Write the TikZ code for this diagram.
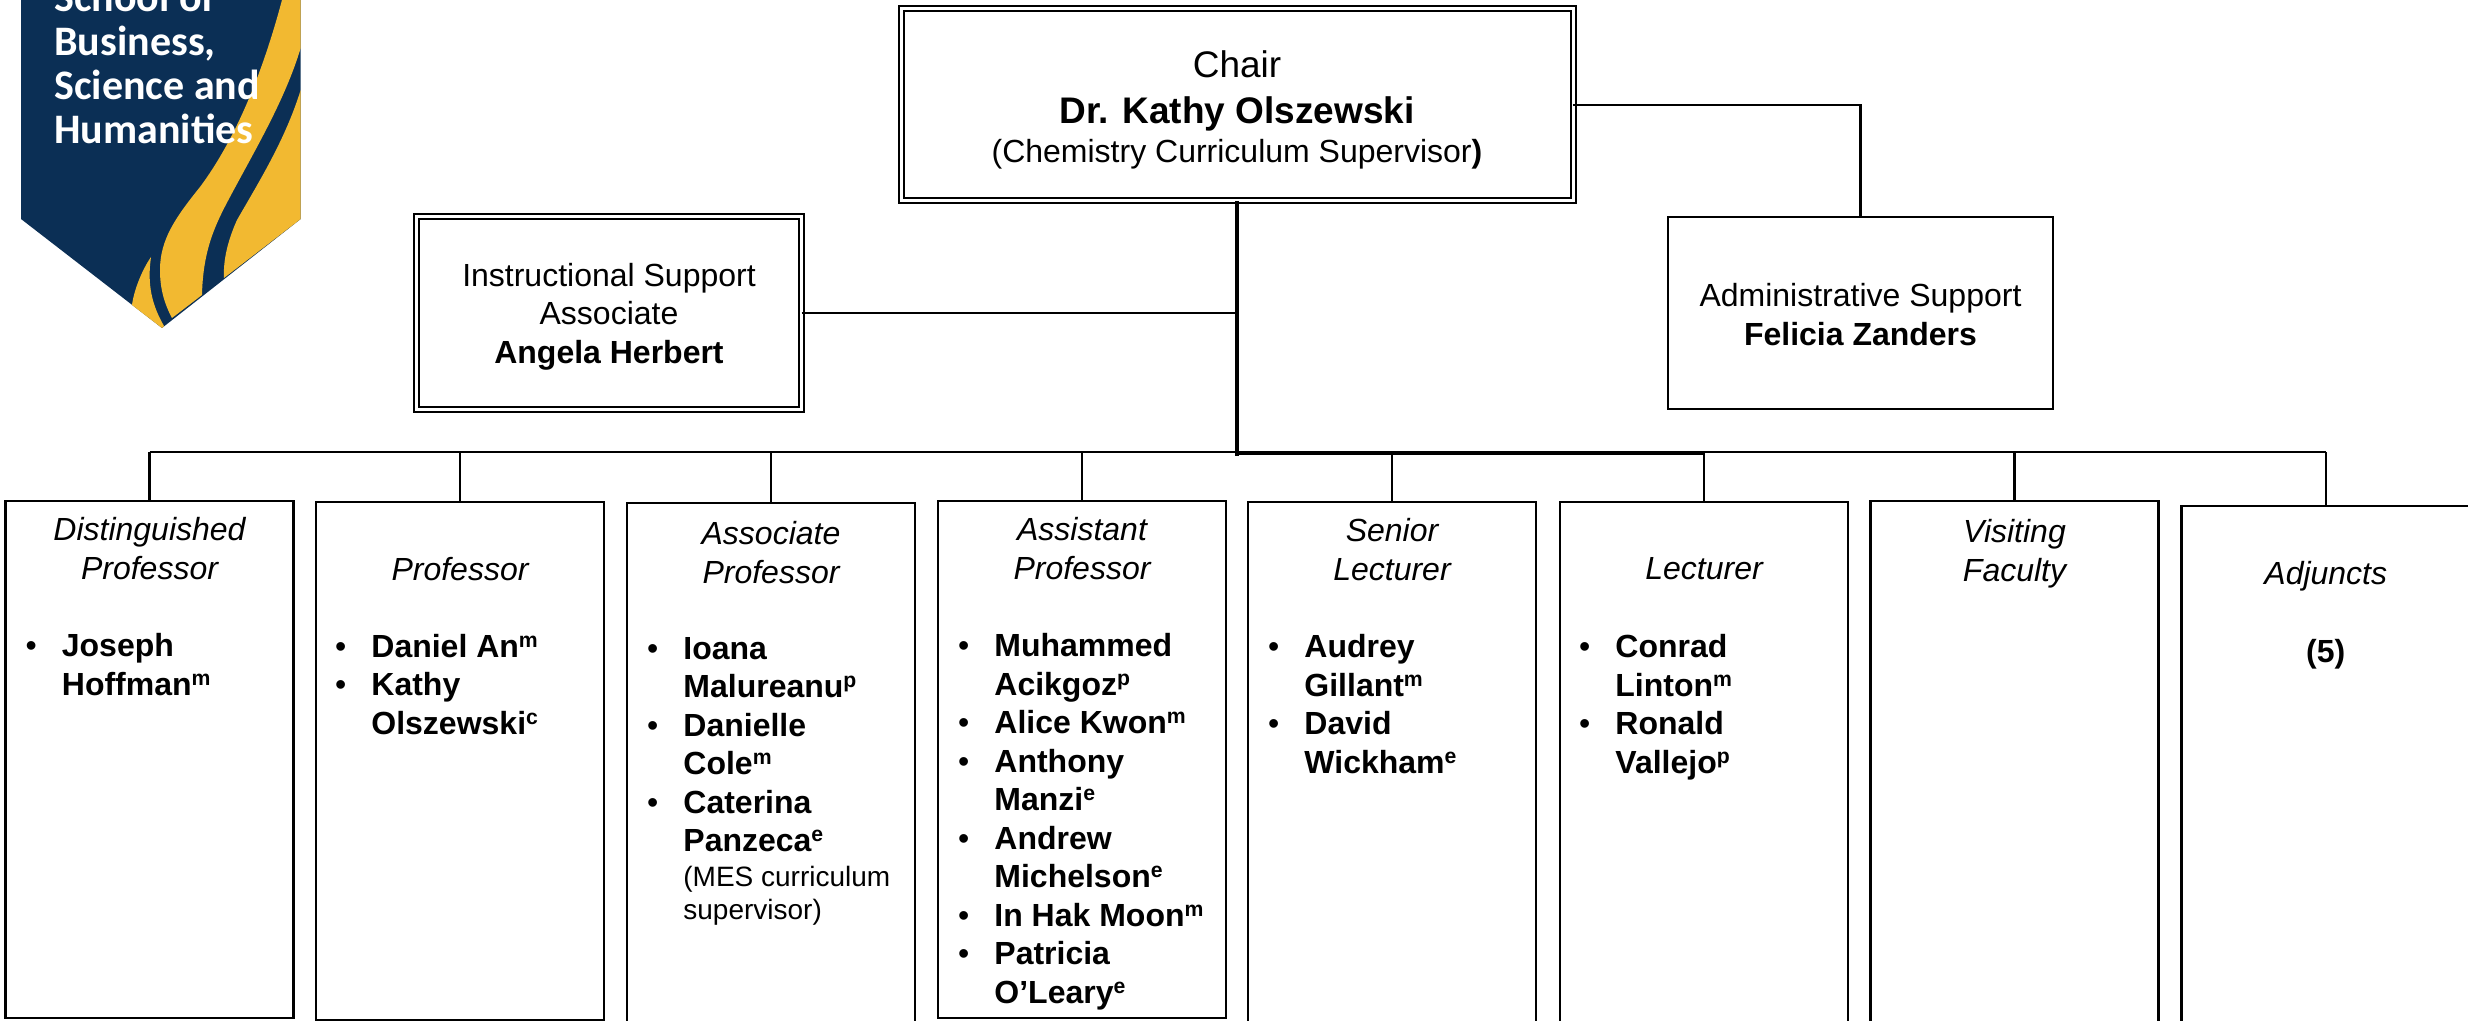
\documentclass[tikz,border=0pt]{standalone}
\usepackage{fontspec}
\setmainfont{Liberation Sans}
\newfontfamily\logofont{Carlito}
\usepackage{xcolor}
\usetikzlibrary{positioning}
\definecolor{logonavy}{HTML}{0B2F55}
\definecolor{logogold}{HTML}{F2B931}
\newcommand{\bul}{\llap{\textmd{\textbullet}\hspace{12.5pt}}}
\newcommand{\rk}[1]{\raisebox{5pt}{\fontsize{10.6}{10.6}\selectfont #1}}

\begin{document}
\begin{tikzpicture}[x=0.5pt, y=-0.5pt]
\tikzstyle{lead}=[draw, double, line width=1pt, double distance=1.5pt, inner sep=0pt, outer sep=0pt]
\tikzstyle{office}=[draw, line width=1.3pt, inner sep=0pt, outer sep=0pt]
\tikzstyle{boxtext}=[inner sep=0pt, align=center, anchor=north,
                  font=\fontsize{16}{19.25}\selectfont]
\tikzstyle{rank}=[draw, line width=1.4pt, inner sep=0pt, outer sep=0pt, anchor=north west,
                  minimum width=144pt]
\tikzstyle{ranktitle}=[inner sep=0pt, align=center, anchor=north,
                  font=\fontsize{16}{19.25}\selectfont\itshape]
\tikzstyle{names}=[inner sep=0pt, align=left, anchor=north west,
                  font=\fontsize{16}{19.25}\selectfont\bfseries]
\tikzstyle{wire}=[line width=1.2pt]
\useasboundingbox (0,0) rectangle (2468,1021);

% logo
\fill[logonavy] (21,0) -- (300.7,0) -- (300.7,219) -- (162,328) -- (21,219) -- cycle;
\fill[logogold] (282,0) .. controls (262,75) and (235,140) .. (200,187)
  .. controls (175,218) and (160,240) .. (160,270)
  .. controls (160,290) and (165,305) .. (172,318)
  -- (202,295) .. controls (203,250) and (215,225) .. (230,197)
  .. controls (255,150) and (285,100) .. (300.7,48)
  -- (300.7,0) -- cycle;
\fill[logogold] (300.7,90) .. controls (285,140) and (260,180) .. (237,220)
  .. controls (228,240) and (223,260) .. (224,278)
  -- (300.7,219) -- cycle;
\fill[logogold] (151,257) .. controls (142,270) and (134,290) .. (132,305)
  -- (162,328) -- (164,326) .. controls (152,305) and (147,285) .. (151,257) -- cycle;
\node[anchor=south west, inner sep=0pt, align=left, text=white,
      font=\logofont\fontsize{21}{22}\selectfont\bfseries] (logotext) at (54,144)
  {School of\\Business,\\Science and\\Humanities};

% top boxes
\node[lead, minimum width=336pt, minimum height=96pt] (chair) at (1237,105) {};
\node[lead, minimum width=192.5pt, minimum height=96.5pt] (support) at (609,313) {};
\node[office, minimum width=192.5pt, minimum height=96pt] (admin) at (1860.5,313) {};

\node[boxtext, below=20.6pt of chair.north] (chairtext)
  {\fontsize{18.5}{22}\selectfont Chair\\[3.6pt]
   \fontsize{18.5}{22}\selectfont\bfseries Dr. Kathy Olszewski\\[0.4pt]
   \fontsize{16}{19.25}\selectfont (Chemistry Curriculum Supervisor\textbf{)}};
\node[boxtext, below=23pt of support.north] (supporttext)
  {Instructional Support\\Associate\\\textbf{Angela Herbert}};
\node[boxtext, below=33pt of admin.north] (admintext)
  {Administrative Support\\\textbf{Felicia Zanders}};

% rank boxes
\node[rank, minimum height=258.5pt] (dist) at (5.5,501) {};
\node[rank, minimum height=259pt] (prof) at (316,502) {};
\node[rank, minimum height=265pt] (assoc) at (627,503) {};
\node[rank, minimum height=258.5pt] (assist) at (938,501) {};
\node[rank, minimum height=265pt] (senior) at (1248,502) {};
\node[rank, minimum height=265pt] (lect) at (1560,502) {};
\node[rank, minimum height=265pt] (visit) at (1870.5,501) {};
\node[rank, minimum height=265pt, minimum width=144.25pt] (adj) at (2181.5,506) {};

\node[ranktitle, below=8.2pt of dist.north] (disttitle) {Distinguished\\Professor};
\node[ranktitle, below=27.5pt of prof.north] (proftitle) {Professor};
\node[ranktitle, below=9pt of assoc.north] (assoctitle) {Associate\\Professor};
\node[ranktitle, below=8.2pt of assist.north] (assisttitle) {Assistant\\Professor};
\node[ranktitle, below=8.2pt of senior.north] (seniortitle) {Senior\\Lecturer};
\node[ranktitle, below=27.5pt of lect.north] (lecttitle) {Lecturer};
\node[ranktitle, below=9pt of visit.north] (visittitle) {Visiting\\Faculty};
\node[ranktitle, below=27.5pt of adj.north] (adjtitle) {Adjuncts};

\node[names, below right=66pt and 28pt of dist.north west] (distnames)
  {\bul Joseph\\Hoffman\rk{m}};
\node[names, below right=65.8pt and 27.5pt of prof.north west] (profnames)
  {\bul Daniel An\rk{m}\\\bul Kathy\\Olszewski\rk{c}};
\node[names, below right=66.8pt and 28pt of assoc.north west] (assocnames)
  {\bul Ioana\\Malureanu\rk{p}\\\bul Danielle\\Cole\rk{m}\\\bul Caterina\\Panzeca\rk{e}\\[-1.7pt]
   \fontsize{14}{16.5}\selectfont\mdseries (MES curriculum\\[-2.75pt]
   \fontsize{14}{16.5}\selectfont\mdseries supervisor)};
\node[names, below right=66pt and 28pt of assist.north west] (assistnames)
  {\bul Muhammed\\Acikgoz\rk{p}\\\bul Alice Kwon\rk{m}\\\bul Anthony\\Manzi\rk{e}\\\bul Andrew\\Michelson\rk{e}\\\bul In Hak Moon\rk{m}\\\bul Patricia\\O’Leary\rk{e}};
\node[names, below right=66pt and 28pt of senior.north west] (seniornames)
  {\bul Audrey\\Gillant\rk{m}\\\bul David\\Wickham\rk{e}};
\node[names, below right=66pt and 27.5pt of lect.north west] (lectnames)
  {\bul Conrad\\Linton\rk{m}\\\bul Ronald\\Vallejo\rk{p}};
\node[inner sep=0pt, below=66.5pt of adj.north, font=\fontsize{16}{19.25}\selectfont\bfseries] (adjcount) {(5)};

% connectors
\coordinate (hub) at (1237,456);
\coordinate (barleft) at (dist.north |- 0,452);
\coordinate (barright) at (adj.north |- 0,452);
\draw[line width=2pt] (chair.south) -- (hub);
\draw[wire] (support.east) -- (support.east -| chair.south);
\draw[wire] (chair.east) -| (admin.north);
\draw[wire] (barleft) -- (barright);
\draw[line width=1.7pt] (1237,453) -- (lect.north |- 0,453);
\draw[wire] (dist.north) -- (barleft);
\draw[wire] (prof.north) -- (prof.north |- barleft);
\draw[wire] (assoc.north) -- (assoc.north |- barleft);
\draw[wire] (assist.north) -- (assist.north |- barleft);
\draw[wire] (senior.north) -- (senior.north |- barleft);
\draw[wire] (lect.north) -- (lect.north |- barleft);
\draw[wire] (visit.north) -- (visit.north |- barleft);
\draw[wire] (adj.north) -- (barright);

\end{tikzpicture}
\end{document}
